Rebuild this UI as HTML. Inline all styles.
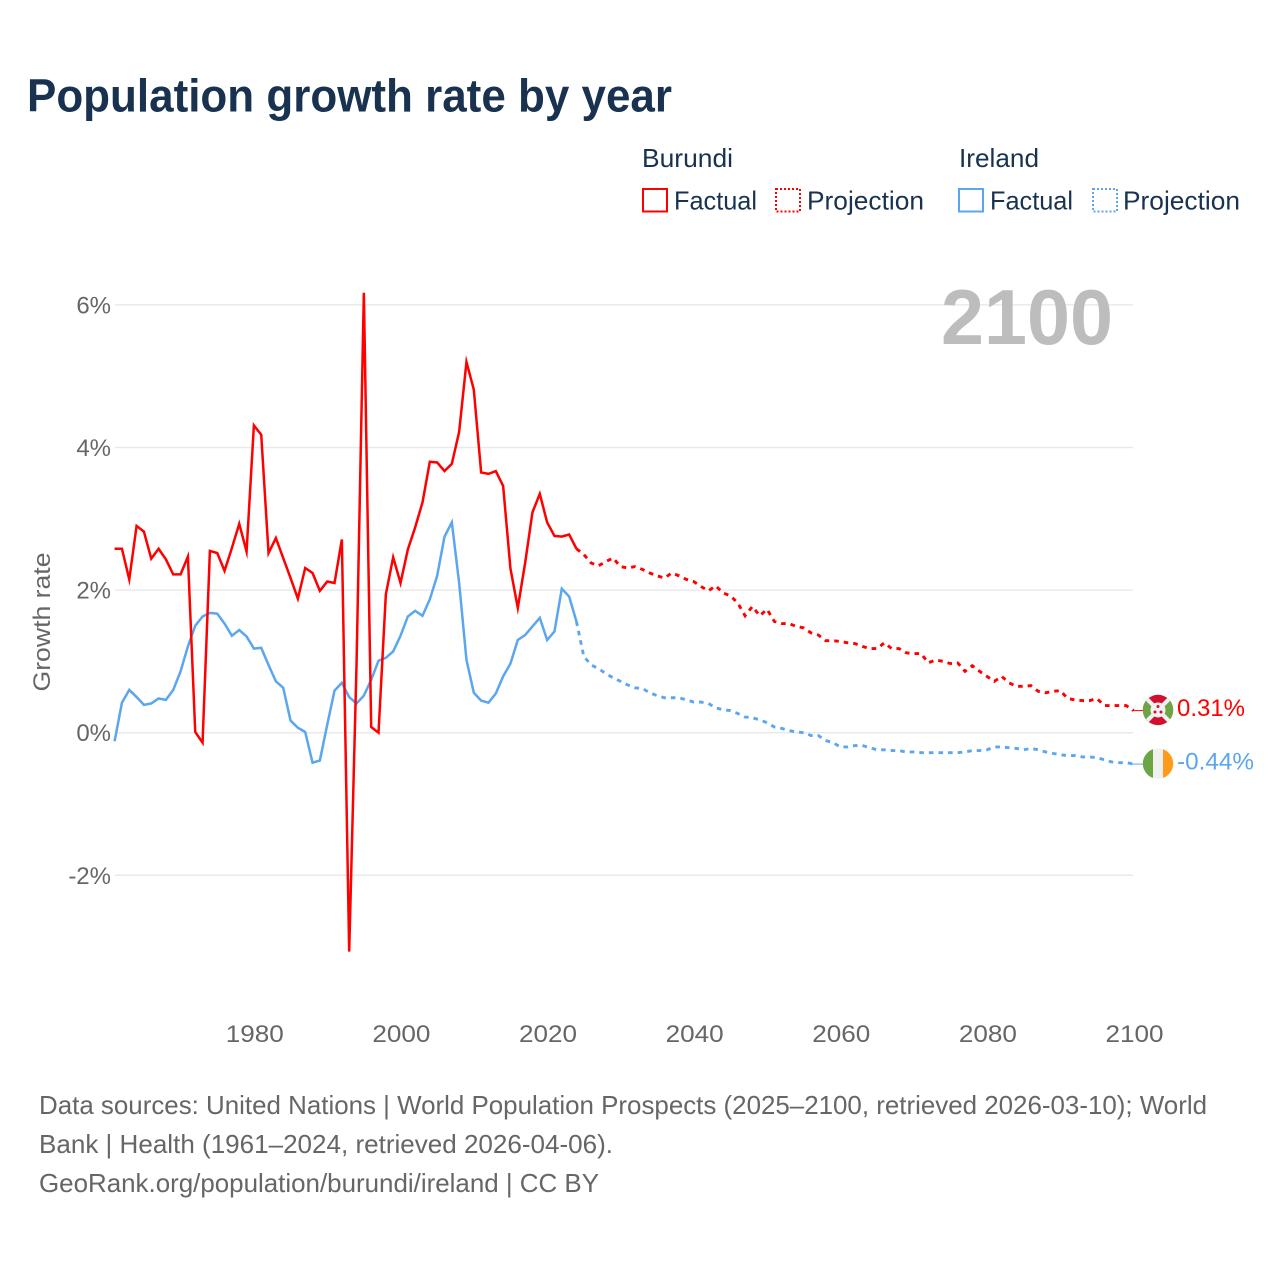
<!DOCTYPE html>
<html lang="en">
<head>
<meta charset="utf-8">
<title>Population growth rate by year</title>
<style>
html,body{margin:0;padding:0;background:#fff;width:1280px;height:1280px;overflow:hidden}
svg{display:block}
text{font-family:"Liberation Sans",sans-serif}
</style>
</head>
<body>
<svg id="chart" xmlns="http://www.w3.org/2000/svg" width="1280" height="1280" viewBox="0 0 1280 1280">
  <defs>
    <clipPath id="clip-burundi"><circle cx="1158" cy="710" r="15.2"/></clipPath>
    <clipPath id="clip-ireland"><circle cx="1158" cy="763.6" r="15.2"/></clipPath>
  </defs>
  <rect x="0" y="0" width="1280" height="1280" fill="#fff"/>

  <text x="27" y="111.5" font-size="46" font-weight="700" fill="#18324f" textLength="645" lengthAdjust="spacingAndGlyphs">Population growth rate by year</text>

  <g>
    <text x="642" y="167" font-size="26" fill="#18324f" textLength="91" lengthAdjust="spacingAndGlyphs">Burundi</text>
    <text x="959" y="167" font-size="26" fill="#18324f" textLength="80" lengthAdjust="spacingAndGlyphs">Ireland</text>
    <rect x="643" y="189" width="24" height="22.5" fill="none" stroke="#ff0000" stroke-width="2"/>
    <text x="674" y="209.5" font-size="26" fill="#18324f" textLength="83" lengthAdjust="spacingAndGlyphs">Factual</text>
    <rect x="776" y="189" width="24" height="22.5" fill="none" stroke="#ff0000" stroke-width="2" stroke-dasharray="2 2"/>
    <text x="807" y="209.5" font-size="26" fill="#18324f" textLength="117" lengthAdjust="spacingAndGlyphs">Projection</text>
    <rect x="959" y="189" width="24" height="22.5" fill="none" stroke="#5ba6ee" stroke-width="2"/>
    <text x="990" y="209.5" font-size="26" fill="#18324f" textLength="83" lengthAdjust="spacingAndGlyphs">Factual</text>
    <rect x="1093" y="189" width="24" height="22.5" fill="none" stroke="#5ba6ee" stroke-width="2" stroke-dasharray="2 2"/>
    <text x="1123" y="209.5" font-size="26" fill="#18324f" textLength="117" lengthAdjust="spacingAndGlyphs">Projection</text>
  </g>

  <g id="grid"></g>
  <g id="y-ticks"></g>
  <g id="x-ticks"></g>

  <text transform="translate(50,622) rotate(-90)" text-anchor="middle" font-size="24" fill="#666" textLength="139" lengthAdjust="spacingAndGlyphs">Growth rate</text>

  <text x="1113" y="344" text-anchor="end" font-size="78" font-weight="700" fill="#bdbdbd" textLength="172" lengthAdjust="spacingAndGlyphs">2100</text>

  <g id="series"></g>

  <g>
    <g clip-path="url(#clip-burundi)">
      <rect x="1142" y="694" width="32" height="32" fill="#d2102e"/>
      <polygon points="1142,694 1158,710 1142,726" fill="#6ea544"/>
      <polygon points="1174,694 1158,710 1174,726" fill="#6ea544"/>
      <line x1="1142" y1="694" x2="1174" y2="726" stroke="#f2f2f2" stroke-width="4"/>
      <line x1="1174" y1="694" x2="1142" y2="726" stroke="#f2f2f2" stroke-width="4"/>
      <circle cx="1158" cy="710" r="7.5" fill="#f2f2f2"/>
      <circle cx="1158" cy="706.5" r="1.5" fill="#d2102e"/>
      <circle cx="1155" cy="712" r="1.5" fill="#d2102e"/>
      <circle cx="1161" cy="712" r="1.5" fill="#d2102e"/>
    </g>
  </g>
  <g>
    <g clip-path="url(#clip-ireland)">
      <rect x="1142" y="748" width="11" height="32" fill="#6ea544"/>
      <rect x="1153" y="748" width="10" height="32" fill="#f0f0f0"/>
      <rect x="1163" y="748" width="11" height="32" fill="#ff9b1a"/>
    </g>
  </g>

  <g>
    <text x="39" y="1114" font-size="26" fill="#666" textLength="1168" lengthAdjust="spacingAndGlyphs">Data sources: United Nations | World Population Prospects (2025–2100, retrieved 2026-03-10); World</text>
    <text x="39" y="1153" font-size="26" fill="#666" textLength="574" lengthAdjust="spacingAndGlyphs">Bank | Health (1961–2024, retrieved 2026-04-06).</text>
    <text x="39" y="1192" font-size="26" fill="#666" textLength="560" lengthAdjust="spacingAndGlyphs">GeoRank.org/population/burundi/ireland | CC BY</text>
  </g>
</svg>

<script>
var yTickValues = [6, 4, 2, 0, -2];
var yTickLabels = ['6%', '4%', '2%', '0%', '-2%'];
var xTickYears = [1980, 2000, 2020, 2040, 2060, 2080, 2100];
var factualStartYear = 1961;
var projectionStartYear = 2025;

var burundiFactual = [2.58,2.58,2.15,2.90,2.82,2.44,2.58,2.43,2.22,2.22,2.47,0.01,-0.14,2.55,2.52,2.27,2.59,2.93,2.54,4.31,4.18,2.52,2.73,2.45,2.17,1.88,2.31,2.24,1.99,2.12,2.10,2.71,-3.07,0.95,6.17,0.08,0.00,1.94,2.46,2.10,2.57,2.88,3.23,3.80,3.79,3.67,3.77,4.22,5.20,4.81,3.65,3.63,3.67,3.46,2.30,1.75,2.38,3.09,3.35,2.95,2.76,2.75,2.78,2.58];
var burundiProjection = [2.50,2.38,2.34,2.40,2.45,2.33,2.31,2.33,2.29,2.24,2.20,2.17,2.24,2.20,2.15,2.12,2.05,1.99,2.06,1.96,1.92,1.82,1.64,1.77,1.64,1.73,1.56,1.53,1.53,1.49,1.47,1.40,1.37,1.29,1.29,1.28,1.26,1.25,1.21,1.18,1.18,1.26,1.18,1.18,1.12,1.11,1.11,0.98,1.02,1.00,0.97,0.98,0.86,0.94,0.86,0.79,0.72,0.79,0.70,0.65,0.65,0.66,0.58,0.56,0.58,0.59,0.48,0.46,0.45,0.45,0.48,0.38,0.38,0.38,0.38,0.31];
var irelandFactual = [-0.12,0.42,0.60,0.50,0.39,0.41,0.48,0.46,0.60,0.86,1.21,1.50,1.63,1.68,1.67,1.53,1.36,1.44,1.35,1.18,1.19,0.95,0.72,0.63,0.17,0.07,0.01,-0.42,-0.39,0.11,0.59,0.70,0.50,0.41,0.52,0.74,1.01,1.05,1.14,1.36,1.63,1.71,1.64,1.87,2.20,2.75,2.95,2.10,1.02,0.56,0.45,0.42,0.55,0.79,0.97,1.30,1.37,1.49,1.61,1.30,1.42,2.02,1.91,1.56];
var irelandProjection = [1.07,0.95,0.90,0.83,0.77,0.72,0.67,0.63,0.62,0.56,0.52,0.49,0.49,0.49,0.46,0.43,0.43,0.41,0.35,0.32,0.31,0.27,0.22,0.21,0.18,0.14,0.08,0.06,0.03,0.01,0.00,-0.04,-0.04,-0.11,-0.14,-0.20,-0.20,-0.18,-0.18,-0.21,-0.24,-0.24,-0.25,-0.25,-0.27,-0.27,-0.28,-0.28,-0.28,-0.28,-0.28,-0.28,-0.27,-0.25,-0.25,-0.24,-0.20,-0.20,-0.21,-0.22,-0.24,-0.22,-0.24,-0.27,-0.29,-0.31,-0.32,-0.32,-0.34,-0.34,-0.35,-0.38,-0.41,-0.42,-0.42,-0.44];

var SVGNS = 'http://www.w3.org/2000/svg';
var RED = '#ff0000';
var BLUE = '#5ba6ee';

function xScale(year) { return 114.6 + (year - 1961) * (1133.6 - 114.6) / 139; }
function yScale(value) { return 732.7 - value * 71.3; }

function make(tag, attrs, parent) {
  var el = document.createElementNS(SVGNS, tag);
  for (var k in attrs) { el.setAttribute(k, attrs[k]); }
  parent.appendChild(el);
  return el;
}

function buildPoints(values, startYear) {
  return values.map(function (v, i) {
    return xScale(startYear + i).toFixed(2) + ',' + yScale(v).toFixed(2);
  }).join(' ');
}

var gridGroup = document.getElementById('grid');
var yTickGroup = document.getElementById('y-ticks');
var xTickGroup = document.getElementById('x-ticks');
var seriesGroup = document.getElementById('series');

yTickValues.forEach(function (v, i) {
  var line = make('line', { x1: 115, x2: 1133, y1: yScale(v), y2: yScale(v), stroke: '#e9e9e9', 'stroke-width': 1.5 }, gridGroup);
  
  
  var label = make('text', { x: 111, y: yScale(v) + 8.5, 'text-anchor': 'end', 'font-size': 24, fill: '#666' }, yTickGroup);
  label.textContent = yTickLabels[i];
  
  
});

xTickYears.forEach(function (year) {
  var label = make('text', { x: xScale(year) + 0.9, y: 1042, 'text-anchor': 'middle', 'font-size': 24, fill: '#666', textLength: 58, lengthAdjust: 'spacingAndGlyphs' }, xTickGroup);
  label.textContent = String(year);
  
  
});

var irelandFactualLine = make('polyline', { points: buildPoints(irelandFactual, factualStartYear), fill: 'none', stroke: BLUE, 'stroke-width': 2.5, 'stroke-linejoin': 'miter' }, seriesGroup);



var burundiFactualLine = make('polyline', { points: buildPoints(burundiFactual, factualStartYear), fill: 'none', stroke: RED, 'stroke-width': 2.5, 'stroke-linejoin': 'miter', 'stroke-miterlimit': 10 }, seriesGroup);



var irelandProjectionLine = make('polyline', { points: buildPoints(irelandFactual.slice(-1).concat(irelandProjection), projectionStartYear - 1), fill: 'none', stroke: BLUE, 'stroke-width': 2.9, 'stroke-dasharray': '4.6 5' }, seriesGroup);



var burundiProjectionLine = make('polyline', { points: buildPoints(burundiFactual.slice(-1).concat(burundiProjection), projectionStartYear - 1), fill: 'none', stroke: RED, 'stroke-width': 2.9, 'stroke-dasharray': '4.6 5' }, seriesGroup);



var burundiEnd = burundiProjection[burundiProjection.length - 1];
var irelandEnd = irelandProjection[irelandProjection.length - 1];

var burundiConnector = make('line', { x1: xScale(2100) - 2, x2: 1143, y1: yScale(burundiEnd), y2: yScale(burundiEnd), stroke: RED, 'stroke-width': 1 }, seriesGroup);



var irelandConnector = make('line', { x1: xScale(2100) - 2, x2: 1143, y1: yScale(irelandEnd), y2: yScale(irelandEnd), stroke: BLUE, 'stroke-width': 1 }, seriesGroup);



var burundiValue = make('text', { x: 1177, y: yScale(burundiEnd) + 5.5, 'font-size': 24.5, fill: RED, textLength: 68, lengthAdjust: 'spacingAndGlyphs' }, seriesGroup);
burundiValue.textContent = burundiEnd.toFixed(2) + '%';



var irelandValue = make('text', { x: 1177, y: yScale(irelandEnd) + 5.5, 'font-size': 24.5, fill: BLUE, textLength: 77, lengthAdjust: 'spacingAndGlyphs' }, seriesGroup);
irelandValue.textContent = irelandEnd.toFixed(2) + '%';


</script>
</body>
</html>
